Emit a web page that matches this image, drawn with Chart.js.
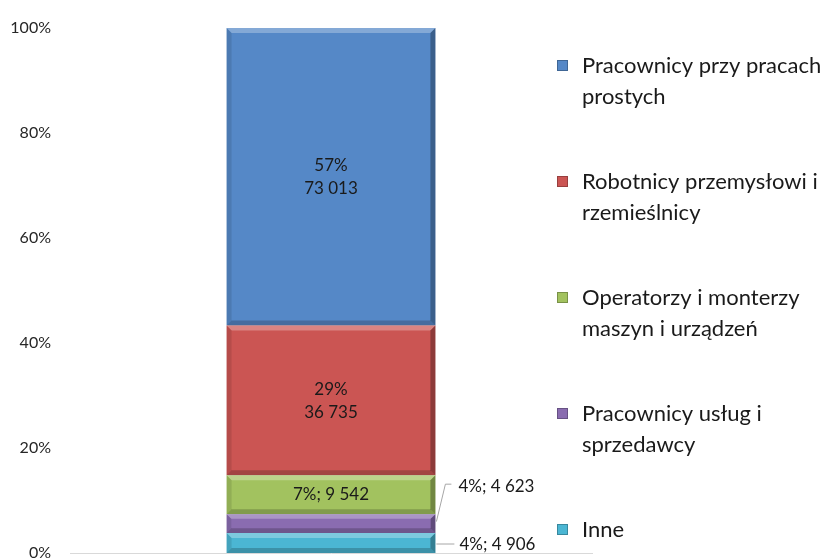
<!DOCTYPE html>
<html><head><meta charset="utf-8">
<script src="https://cdn.jsdelivr.net/npm/chart.js@4.4.1/dist/chart.umd.min.js"></script>
<style>html,body{margin:0;padding:0;background:#fff}#wrap{width:829px;height:558px}</style>
</head><body><div id="wrap"><canvas id="c" width="829" height="558"></canvas></div>
<script>
const categories = [""];
const seriesNames = ["Inne", "Pracownicy usług i\nsprzedawcy", "Operatorzy i monterzy\nmaszyn i urządzeń", "Robotnicy przemysłowi i\nrzemieślnicy", "Pracownicy przy pracach\nprostych"];
const seriesCounts = [4906, 4623, 9542, 36735, 73013];
const seriesColors = ["#4bb6d3", "#8a6cb0", "#a2c25f", "#cb5553", "#5588c7"];
const yTicks = [0, 20, 40, 60, 80, 100];

const total = seriesCounts.reduce((a, b) => a + b, 0);
const fmt = n => String(n).replace(/\B(?=(\d{3})+(?!\d))/g, " ");
const FONT = "Lato, 'Liberation Sans', sans-serif";

const datasets = seriesNames.map((n, i) => ({
  label: n,
  data: [seriesCounts[i] / total * 100],
  backgroundColor: seriesColors[i],
  borderWidth: 0,
  categoryPercentage: 1,
  barPercentage: 0.4
}));

const bevel = {
  id: 'bevel',
  afterDatasetsDraw(chart) {
    const ctx = chart.ctx;
    chart.data.datasets.forEach((ds, di) => {
      chart.getDatasetMeta(di).data.forEach(el => {
        const l = el.x - el.width / 2, r = el.x + el.width / 2;
        const t = Math.min(el.y, el.base), bt = Math.max(el.y, el.base);
        const b = Math.min(5, (bt - t) / 4);
        const poly = (pts, fill) => {
          ctx.beginPath(); ctx.moveTo(pts[0][0], pts[0][1]);
          pts.slice(1).forEach(p => ctx.lineTo(p[0], p[1]));
          ctx.closePath(); ctx.fillStyle = fill; ctx.fill();
        };
        ctx.save();
        poly([[l, t], [r, t], [r - b, t + b], [l + b, t + b]], 'rgba(255,255,255,0.28)');
        poly([[l, t], [l + b, t + b], [l + b, bt - b], [l, bt]], 'rgba(0,0,0,0.10)');
        poly([[r, t], [r - b, t + b], [r - b, bt - b], [r, bt]], 'rgba(0,0,0,0.30)');
        poly([[l, bt], [l + b, bt - b], [r - b, bt - b], [r, bt]], 'rgba(0,0,0,0.20)');
        ctx.restore();
      });
    });
  }
};

const labelsPlugin = {
  id: 'dlabels',
  afterDatasetsDraw(chart) {
    const ctx = chart.ctx;
    ctx.save();
    ctx.font = "17px " + FONT;
    ctx.fillStyle = "#1a1a1a";
    ctx.textBaseline = "middle";
    let outsideCount = 0;
    chart.data.datasets.forEach((ds, di) => {
      const el = chart.getDatasetMeta(di).data[0];
      const h = Math.abs(el.base - el.y);
      const cy = (el.y + el.base) / 2;
      const pct = Math.round(seriesCounts[di] / total * 100) + "%";
      const num = fmt(seriesCounts[di]);
      const r = el.x + el.width / 2;
      if (h > 100) {
        ctx.textAlign = "center";
        ctx.fillText(pct, el.x, cy - 11);
        ctx.fillText(num, el.x, cy + 12);
      } else if (h > 28) {
        ctx.textAlign = "center";
        ctx.fillText(pct + "; " + num, el.x, cy);
      } else {
        ctx.textAlign = "left";
        ctx.strokeStyle = "#a6a6a6";
        ctx.lineWidth = 1;
        ctx.beginPath();
        if (outsideCount === 0) {
          ctx.moveTo(r + 1, cy + 1); ctx.lineTo(r + 19, cy + 1);
          ctx.stroke();
          ctx.fillText(pct + "; " + num, r + 24, cy + 2);
        } else {
          const ly = el.y - 30;
          ctx.moveTo(r + 1, cy - 2); ctx.lineTo(r + 10, ly); ctx.lineTo(r + 16, ly);
          ctx.stroke();
          ctx.fillText(pct + "; " + num, r + 23, ly + 2);
        }
        outsideCount++;
      }
    });
    ctx.restore();
  }
};

const legendPlugin = {
  id: 'customLegend',
  afterDraw(chart) {
    const ctx = chart.ctx;
    ctx.save();
    ctx.font = "22px " + FONT;
    ctx.fillStyle = "#1a1a1a";
    ctx.textBaseline = "middle";
    ctx.textAlign = "left";
    const n = chart.data.datasets.length;
    const x0 = 557, y0 = 66, step = 116, lh = 31;
    for (let k = 0; k < n; k++) {
      const di = n - 1 - k;
      const ds = chart.data.datasets[di];
      const y = y0 + k * step;
      ctx.fillStyle = ds.backgroundColor;
      ctx.fillRect(x0, y - 6, 11, 11);
      ctx.strokeStyle = 'rgba(0,0,0,0.25)';
      ctx.strokeRect(x0 + 0.5, y - 5.5, 10, 10);
      ctx.fillStyle = "#1a1a1a";
      ds.label.split("\n").forEach((line, li) => {
        ctx.fillText(line, x0 + 25, y + li * lh);
      });
    }
    ctx.restore();
  }
};

new Chart(document.getElementById('c'), {
  type: 'bar',
  data: { labels: categories, datasets },
  options: {
    responsive: false,
    animation: false,
    layout: { padding: { left: 8, right: 237, top: 28, bottom: 5 } },
    plugins: { legend: { display: false }, tooltip: { enabled: false } },
    scales: {
      x: {
        stacked: true,
        afterFit(s) { s.height = 0; },
        grid: { display: false },
        ticks: { display: false },
        border: { display: true, color: '#d9d9d9', width: 1 }
      },
      y: {
        stacked: true,
        min: 0, max: 100,
        afterFit(s) { s.width = 62; s.paddingTop = 0; s.paddingBottom = 0; },
        afterBuildTicks(s) { s.ticks = yTicks.map(v => ({ value: v })); },
        grid: { display: false },
        border: { display: false },
        ticks: {
          padding: 11,
          color: '#262626',
          font: { family: FONT, size: 16 },
          callback: v => v + '%'
        }
      }
    }
  },
  plugins: [bevel, labelsPlugin, legendPlugin]
});
</script></body></html>
